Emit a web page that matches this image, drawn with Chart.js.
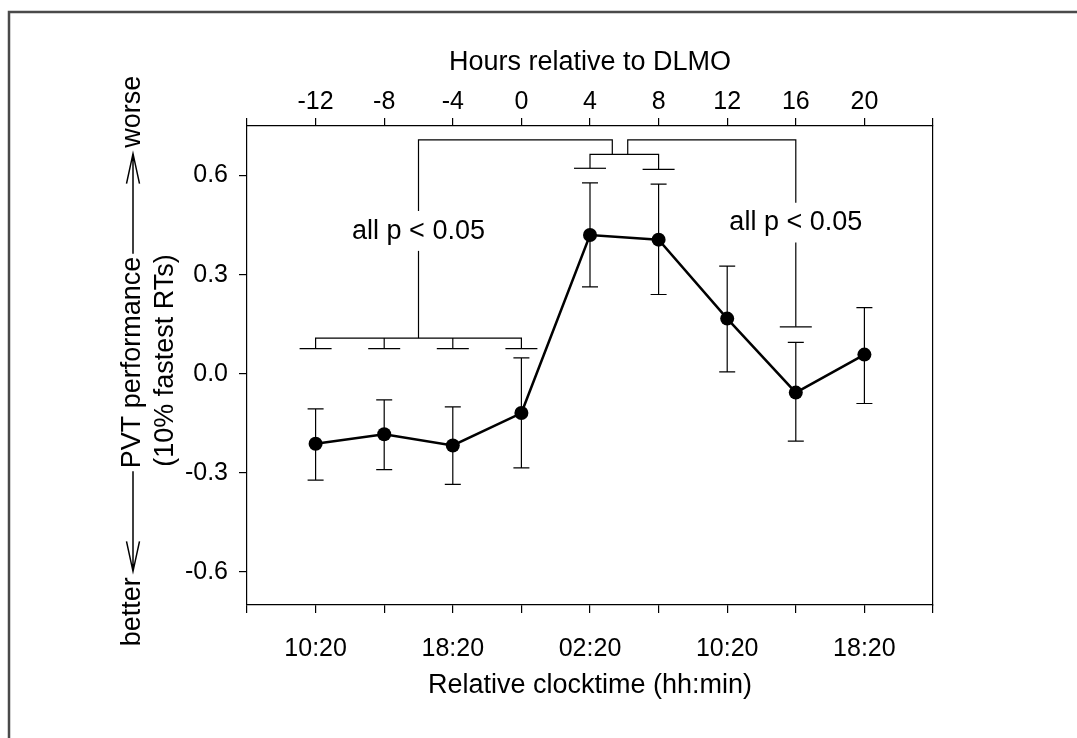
<!DOCTYPE html>
<html>
<head>
<meta charset="utf-8">
<script src="https://cdn.jsdelivr.net/npm/chart.js@4/dist/chart.umd.min.js"></script>
<style>
  html, body { margin: 0; padding: 0; background: #fff; }
  #wrap { width: 1077px; height: 738px; }
</style>
</head>
<body>
<div id="wrap"><canvas id="chart" width="1077" height="738"></canvas></div>
<script>
// hours relative to DLMO, and the clocktime shown under every second one
const hours = [-12, -8, -4, 0, 4, 8, 12, 16, 20];
const clockLabels = { '-12': '10:20', '-4': '18:20', '4': '02:20', '12': '10:20', '20': '18:20' };
const yTicks = [-0.6, -0.3, 0, 0.3, 0.6];

// PVT performance, 10% fastest RTs (mean and error bar ends)
const meanPvt = [-0.212, -0.183, -0.217, -0.119, 0.420, 0.406, 0.167, -0.057, 0.058];
const upperPvt = [-0.106, -0.079, -0.100, 0.048, 0.578, 0.574, 0.326, 0.095, 0.200];
const lowerPvt = [-0.322, -0.290, -0.335, -0.285, 0.263, 0.240, 0.006, -0.204, -0.090];

// significance brackets (hours, PVT units)
const bracketPaths = [
    [[-12, 0.076], [-12, 0.108], [0, 0.108], [0, 0.076]],
    [[-8, 0.076], [-8, 0.108]],
    [[-4, 0.076], [-4, 0.108]],
    [[-6, 0.108], [-6, 0.372]],
    [[-6, 0.493], [-6, 0.708], [5.3, 0.708], [5.3, 0.664]],
    [[4, 0.622], [4, 0.664], [8, 0.664], [8, 0.619]],
    [[6.2, 0.664], [6.2, 0.708], [16, 0.708], [16, 0.518]],
    [[16, 0.397], [16, 0.142]]
];
const bracketCaps = [[-12, 0.076], [-8, 0.076], [-4, 0.076], [0, 0.076], [4, 0.622], [8, 0.619], [16, 0.142]];
const pLabels = [[-6, 0.432], [16, 0.457]];
const pText = 'all p < 0.05';

const FONT = '"Liberation Sans", Arial, sans-serif';

const decorations = {
    id: 'decorations',
    beforeDraw(chart) {
        const ctx = chart.ctx;
        ctx.save();
        ctx.strokeStyle = '#4a4a4a';
        ctx.lineWidth = 2.5;
        ctx.beginPath();
        ctx.moveTo(9, 738);
        ctx.lineTo(9, 12);
        ctx.lineTo(1077, 12);
        ctx.stroke();
        ctx.restore();
    },
    beforeDatasetsDraw(chart) {
        const ctx = chart.ctx;
        const xs = chart.scales.x;
        const ys = chart.scales.y;
        ctx.save();
        ctx.strokeStyle = '#000';
        ctx.lineWidth = 1.2;

        // error bars
        hours.forEach((h, i) => {
            const px = xs.getPixelForValue(h);
            const top = ys.getPixelForValue(upperPvt[i]);
            const bot = ys.getPixelForValue(lowerPvt[i]);
            ctx.beginPath();
            ctx.moveTo(px, top);
            ctx.lineTo(px, bot);
            ctx.moveTo(px - 8, top);
            ctx.lineTo(px + 8, top);
            ctx.moveTo(px - 8, bot);
            ctx.lineTo(px + 8, bot);
            ctx.stroke();
        });

        // brackets
        bracketPaths.forEach(path => {
            ctx.beginPath();
            path.forEach(([h, v], j) => {
                const px = xs.getPixelForValue(h);
                const py = ys.getPixelForValue(v);
                if (j === 0) ctx.moveTo(px, py); else ctx.lineTo(px, py);
            });
            ctx.stroke();
        });
        bracketCaps.forEach(([h, v]) => {
            const px = xs.getPixelForValue(h);
            const py = ys.getPixelForValue(v);
            ctx.beginPath();
            ctx.moveTo(px - 16, py);
            ctx.lineTo(px + 16, py);
            ctx.stroke();
        });

        ctx.fillStyle = '#000';
        ctx.font = '27px ' + FONT;
        ctx.textAlign = 'center';
        ctx.textBaseline = 'middle';
        pLabels.forEach(([h, v]) => {
            ctx.fillText(pText, xs.getPixelForValue(h), ys.getPixelForValue(v));
        });
        ctx.restore();
    },
    afterDraw(chart) {
        const ctx = chart.ctx;
        const area = chart.chartArea;
        const cx = (area.left + area.right) / 2;
        const cy = (area.top + area.bottom) / 2;
        ctx.save();
        ctx.fillStyle = '#000';
        ctx.strokeStyle = '#000';
        ctx.font = '27px ' + FONT;
        ctx.textAlign = 'center';
        ctx.textBaseline = 'middle';
        ctx.fillText('Hours relative to DLMO', cx, 63);
        ctx.fillText('Relative clocktime (hh:min)', cx, 686);

        // y title with arrows, rotated
        ctx.translate(133, cy - 3);
        ctx.rotate(-Math.PI / 2);
        const main = 'PVT performance';
        const half = ctx.measureText(main).width / 2;
        ctx.fillText(main, 0, 0);
        ctx.fillText('(10% fastest RTs)', 2, 33);
        const gap = 3, len = 100;
        ctx.lineWidth = 1.5;
        [-1, 1].forEach(dir => {
            const a = dir * (half + gap);
            const b = dir * (half + gap + len);
            ctx.beginPath();
            ctx.moveTo(a, 0);
            ctx.lineTo(b, 0);
            ctx.moveTo(b - dir * 30, -6.5);
            ctx.lineTo(b, 0);
            ctx.lineTo(b - dir * 30, 6.5);
            ctx.stroke();
        });
        ctx.textAlign = 'right';
        ctx.fillText('better', -(half + gap + len + 6), 0);
        ctx.textAlign = 'left';
        ctx.fillText('worse', half + gap + len + 6, 0);
        ctx.restore();
    }
};

const tickFont = { family: FONT, size: 25 };
const axisGrid = { drawOnChartArea: false, tickLength: 8, color: '#000', lineWidth: 1.2 };
const axisBorder = { color: '#000', width: 1.2 };

new Chart(document.getElementById('chart'), {
    type: 'line',
    data: {
        datasets: [{
            data: hours.map((h, i) => ({ x: h, y: meanPvt[i] })),
            borderColor: '#000',
            backgroundColor: '#000',
            borderWidth: 2.5,
            pointRadius: 7,
            pointBorderWidth: 0,
            pointBackgroundColor: '#000',
            tension: 0,
            xAxisID: 'x',
            yAxisID: 'y'
        }]
    },
    options: {
        responsive: false,
        animation: false,
        layout: { padding: { left: 0, right: 144, top: 0, bottom: 0 } },
        plugins: { legend: { display: false }, tooltip: { enabled: false } },
        scales: {
            x: {
                type: 'linear', position: 'bottom', min: -16, max: 24,
                ticks: {
                    stepSize: 4, autoSkip: false, maxRotation: 0, padding: 21,
                    color: '#000', font: tickFont,
                    callback: v => clockLabels[v] || ''
                },
                grid: axisGrid, border: axisBorder,
                afterFit: s => { s.height = 133; }
            },
            xTop: {
                type: 'linear', position: 'top', min: -16, max: 24,
                ticks: {
                    stepSize: 4, autoSkip: false, maxRotation: 0, padding: 1,
                    color: '#000', font: tickFont,
                    callback: v => (v > -16 && v < 24) ? String(v) : ''
                },
                grid: axisGrid, border: axisBorder,
                afterFit: s => { s.height = 126; }
            },
            y: {
                min: -0.7, max: 0.75,
                afterBuildTicks: s => { s.ticks = yTicks.map(v => ({ value: v })); },
                ticks: { padding: 11, color: '#000', font: tickFont, callback: v => v.toFixed(1) },
                grid: axisGrid, border: axisBorder,
                afterFit: s => { s.width = 247; }
            },
            yRight: {
                position: 'right', min: -0.7, max: 0.75,
                ticks: { display: false },
                grid: { display: false },
                border: axisBorder,
                afterFit: s => { s.width = 0; }
            }
        }
    },
    plugins: [decorations]
});
</script>
</body>
</html>
